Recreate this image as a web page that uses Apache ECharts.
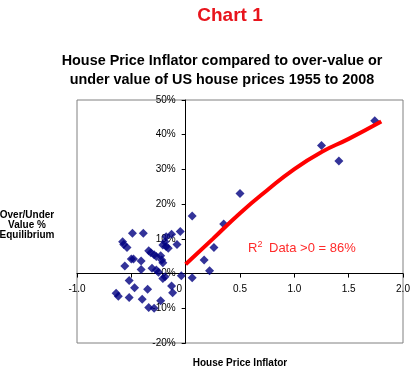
<!DOCTYPE html>
<html>
<head>
<meta charset="utf-8">
<script src="https://cdn.jsdelivr.net/npm/echarts@6/dist/echarts.min.js"></script>
<style>html,body{margin:0;padding:0;background:#fff;}#c{width:417px;height:379px;}</style>
</head>
<body>
<div id="c"></div>
<script>
// House Price Inflator (x) vs Over/Under value % (y)
var inflator = [0.06,-0.49,-0.39,-0.05,-0.13,-0.18,-0.58,-0.57,-0.54,-0.21,-0.18,-0.16,-0.19,-0.08,
  -0.34,-0.32,-0.29,-0.27,-0.23,-0.22,-0.21,-0.50,-0.48,-0.41,-0.56,-0.41,-0.31,-0.27,-0.25,-0.21,
  -0.19,-0.04,0.06,-0.52,-0.47,-0.35,-0.13,-0.12,-0.64,-0.62,-0.52,-0.40,-0.23,-0.34,-0.29,0.17,0.22,
  1.74,1.25,1.41,0.50,0.35,0.26];
var overUnder = [16.6,11.6,11.6,12.1,11.3,10.6,9.2,8.4,7.5,8.2,7.8,7.3,9.2,8.4,
  6.6,6.0,5.4,4.9,5.1,3.9,3.1,4.2,4.2,3.6,2.2,1.2,1.5,1.0,0.4,-1.4,
  -0.9,-0.6,-1.2,-2.0,-4.1,-4.5,-3.6,-5.5,-5.7,-6.5,-6.9,-7.4,-7.8,-9.8,-10.0,3.9,0.8,
  44.0,36.9,32.4,23.1,14.3,7.5];
// Trend line
var trendX = [0.0, 0.25, 0.5, 0.75, 1.0, 1.25, 1.5, 1.8];
var trendY = [2.7, 10.0, 17.4, 24.0, 30.1, 35.0, 38.8, 43.8];
var xTicks = {min: -1, max: 2, interval: 0.5};
var yTicks = {min: -20, max: 50, interval: 10};

var font = 'Arial, "Liberation Sans", sans-serif';
var pts = inflator.map(function (x, i) { return [x, overUnder[i]]; });
var trend = trendX.map(function (x, i) { return [x, trendY[i]]; });

var G = {left: 77, top: 100, width: 326, height: 243};
// axes cross at zero: shift the axes inward from the grid edges
var yOffset = -G.width * (0 - xTicks.min) / (xTicks.max - xTicks.min);
var xOffset = -G.height * (0 - yTicks.min) / (yTicks.max - yTicks.min);

var chart = echarts.init(document.getElementById('c'), null, {renderer: 'canvas'});
chart.setOption({
  backgroundColor: '#fff',
  animation: false,
  grid: {left: G.left, top: G.top, width: G.width, height: G.height, show: true, borderColor: '#808080', borderWidth: 1, backgroundColor: 'transparent'},
  xAxis: {
    type: 'value', min: xTicks.min, max: xTicks.max, interval: xTicks.interval,
    position: 'bottom', offset: xOffset,
    axisLine: {onZero: false, lineStyle: {color: '#000', width: 1}},
    axisTick: {show: true, length: 4, lineStyle: {color: '#000'}},
    splitLine: {show: false},
    axisLabel: {fontFamily: font, fontSize: 10, color: '#000', margin: 11,
      formatter: function (v) {
        if (Math.abs(v + 0.5) < 1e-9) return '';          // hidden behind the point cluster
        if (Math.abs(v) < 1e-9) return '{z|0}';            // only "0" shows at the origin
        return v.toFixed(1);
      },
      rich: {z: {fontFamily: font, fontSize: 10, color: '#000', padding: [0, 13, 0, 0]}}
    }
  },
  yAxis: {
    type: 'value', min: yTicks.min, max: yTicks.max, interval: yTicks.interval,
    position: 'left', offset: yOffset,
    axisLine: {onZero: false, lineStyle: {color: '#000', width: 1}},
    axisTick: {show: true, length: 4, lineStyle: {color: '#000'}},
    splitLine: {show: false},
    axisLabel: {fontFamily: font, fontSize: 10, color: '#000', margin: 10,
      formatter: '{value}%'}
  },
  series: [{
    type: 'scatter', data: pts, symbol: 'diamond', symbolSize: 9,
    itemStyle: {color: '#000080'}, z: 3
  }, {
    type: 'line', data: trend, smooth: true, showSymbol: false, symbol: 'none',
    lineStyle: {color: '#FF0000', width: 4}, z: 4
  }],
  graphic: [{
    type: 'text', x: 230, y: 6,
    style: {
      text: 'Chart 1', fill: '#E8141C', align: 'center', verticalAlign: 'top',
      font: 'bold 19px ' + font,
      textShadowColor: '#500000', textShadowOffsetX: 1, textShadowOffsetY: 1, textShadowBlur: 0
    }
  }, {
    type: 'text', x: 222, y: 52,
    style: {
      text: 'House Price Inflator compared to over-value or\nunder value of US house prices 1955 to 2008',
      fill: '#000', align: 'center', verticalAlign: 'top', lineHeight: 19,
      font: 'bold 14.4px ' + font
    }
  }, {
    type: 'text', x: 248, y: 240,
    style: {
      text: 'R{sup|2} Data >0 = 86%', fill: '#FF2A2A', font: '13px ' + font, verticalAlign: 'top',
      rich: {sup: {fontSize: 9, fontFamily: font, fill: '#FF2A2A', padding: [0, 3, 8, 0]}}
    }
  }, {
    type: 'text', x: 27, y: 210,
    style: {
      text: 'Over/Under\nValue %\nEquilibrium', fill: '#000', align: 'center', verticalAlign: 'top',
      font: 'bold 10px ' + font, lineHeight: 10
    }
  }, {
    type: 'text', x: 240, y: 358,
    style: {
      text: 'House Price Inflator', fill: '#000', align: 'center', verticalAlign: 'top',
      font: 'bold 10px ' + font
    }
  }]
});
</script>
</body>
</html>
